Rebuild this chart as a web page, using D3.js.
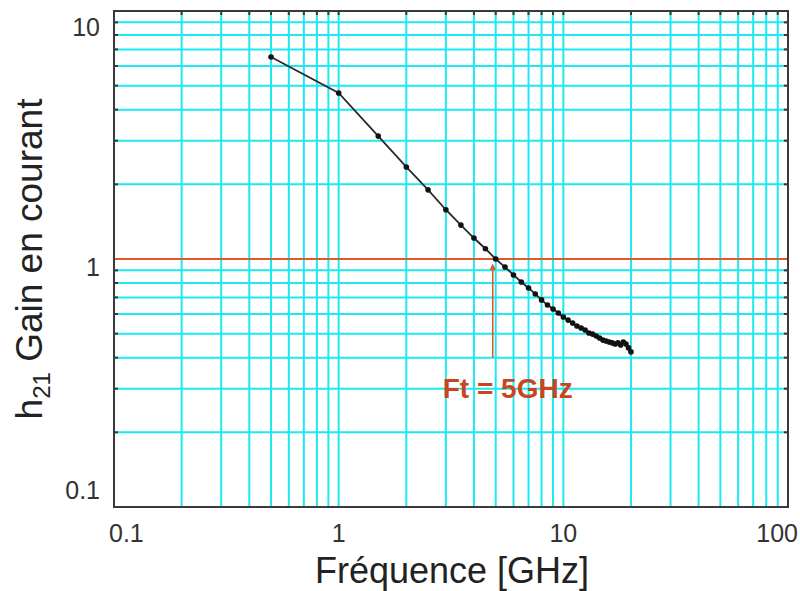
<!DOCTYPE html>
<html>
<head>
<meta charset="utf-8">
<script src="https://cdn.jsdelivr.net/npm/d3@7"></script>
<style>
  body { margin: 0; background: #fff; }
  text { font-family: "Liberation Sans", Arial, sans-serif; }
</style>
</head>
<body>
<script>
// h21 current gain vs frequency, log-log
var WIDTH = 800, HEIGHT = 591;
var MARGIN = {top: 11, right: 12, bottom: 84, left: 114};

var GRID_COLOR = "#1ee8f2";
var FRAME_COLOR = "#3a3a3a";
var RED_COLOR = "#e0582e";
var TEXT_RED = "#c8461e";

// measured points (GHz, h21)
var freq = [0.5, 1, 1.5, 2, 2.5, 3, 3.5, 4, 4.5, 5,
            5.5, 6, 6.5, 7, 7.5, 8, 8.5, 9, 9.5, 10,
            10.5, 11, 11.5, 12, 12.5, 13, 13.5, 14, 14.5, 15,
            15.5, 16, 16.5, 17, 17.5, 18, 18.5, 19, 19.5, 20];
var gain = [6.52, 4.67, 3.13, 2.35, 1.90, 1.58, 1.37, 1.215, 1.10, 1.0,
            0.928, 0.862, 0.808, 0.764, 0.723, 0.684, 0.652, 0.629, 0.606, 0.584,
            0.567, 0.552, 0.537, 0.527, 0.517, 0.503, 0.498, 0.489, 0.480, 0.471,
            0.467, 0.463, 0.459, 0.454, 0.459, 0.450, 0.463, 0.454, 0.438, 0.422];

var xTickValues = [0.1, 1, 10, 100];
var xTickLabels = ["0.1", "1", "10", "100"];
var yTickValues = [10, 1, 0.1];
var yTickLabels = ["10", "1", "0.1"];

var FT = 5;            // transition frequency
var ARROW_FREQ = 4.85; // where the arrow is drawn
var ARROW_FROM = 0.40, ARROW_TO = 0.93;

var innerW = WIDTH - MARGIN.left - MARGIN.right;
var innerH = HEIGHT - MARGIN.top - MARGIN.bottom;

var x = d3.scaleLog().domain([0.1, 100]).range([MARGIN.left, MARGIN.left + innerW]);
var y = d3.scaleLog().domain([0.1, 10]).range([MARGIN.top + innerH, MARGIN.top]);

var svg = d3.select("body").append("svg")
    .attr("width", WIDTH).attr("height", HEIGHT);

svg.append("defs").append("marker")
    .attr("id", "arrowhead")
    .attr("viewBox", "0 0 10 10")
    .attr("refX", 5).attr("refY", 5)
    .attr("markerWidth", 4).attr("markerHeight", 4)
    .attr("orient", "auto")
  .append("path")
    .attr("d", "M0,0 L10,5 L0,10 Z")
    .attr("fill", RED_COLOR);

// grid (every 1..9 of each decade)
var xGrid = x.ticks().filter(function(d) { return d > 0.1 && d < 100; });
var yGrid = y.ticks().filter(function(d) { return d > 0.1 && d <= 10; });

svg.append("g").selectAll("line").data(xGrid).join("line")
    .attr("x1", function(d) { return x(d); }).attr("x2", function(d) { return x(d); })
    .attr("y1", MARGIN.top).attr("y2", MARGIN.top + innerH)
    .attr("stroke", GRID_COLOR).attr("stroke-width", 2);

svg.append("g").selectAll("line").data(yGrid).join("line")
    .attr("y1", function(d) { return y(d); }).attr("y2", function(d) { return y(d); })
    .attr("x1", MARGIN.left).attr("x2", MARGIN.left + innerW)
    .attr("stroke", GRID_COLOR).attr("stroke-width", 2);

// inner tick marks
svg.append("g").selectAll("line").data(yGrid).join("line")
    .attr("x1", MARGIN.left).attr("x2", MARGIN.left + 4)
    .attr("y1", function(d) { return y(d); }).attr("y2", function(d) { return y(d); })
    .attr("stroke", FRAME_COLOR).attr("stroke-width", 2);
svg.append("g").selectAll("line").data(yGrid).join("line")
    .attr("x1", MARGIN.left + innerW - 4).attr("x2", MARGIN.left + innerW)
    .attr("y1", function(d) { return y(d); }).attr("y2", function(d) { return y(d); })
    .attr("stroke", FRAME_COLOR).attr("stroke-width", 2);
svg.append("g").selectAll("line").data(xGrid).join("line")
    .attr("x1", function(d) { return x(d); }).attr("x2", function(d) { return x(d); })
    .attr("y1", MARGIN.top).attr("y2", MARGIN.top + 4)
    .attr("stroke", FRAME_COLOR).attr("stroke-width", 2);

// unity gain line
svg.append("line")
    .attr("x1", MARGIN.left).attr("x2", MARGIN.left + innerW)
    .attr("y1", y(1)).attr("y2", y(1))
    .attr("stroke", RED_COLOR).attr("stroke-width", 2);

// frame
svg.append("rect")
    .attr("x", MARGIN.left).attr("y", MARGIN.top)
    .attr("width", innerW).attr("height", innerH)
    .attr("fill", "none").attr("stroke", FRAME_COLOR).attr("stroke-width", 2);

// curve
var line = d3.line()
    .x(function(d, i) { return x(freq[i]); })
    .y(function(d) { return y(d); });

svg.append("path")
    .datum(gain)
    .attr("d", line)
    .attr("fill", "none").attr("stroke", "#2a2a2a").attr("stroke-width", 1.8);

svg.append("g").selectAll("circle").data(gain).join("circle")
    .attr("cx", function(d, i) { return x(freq[i]); })
    .attr("cy", function(d) { return y(d); })
    .attr("r", 2.8)
    .attr("fill", "#111");

// Ft arrow + label
svg.append("line")
    .attr("x1", x(ARROW_FREQ)).attr("x2", x(ARROW_FREQ))
    .attr("y1", y(ARROW_FROM)).attr("y2", y(ARROW_TO))
    .attr("stroke", RED_COLOR).attr("stroke-width", 1.6)
    .attr("marker-end", "url(#arrowhead)");

svg.append("text")
    .attr("x", x(ARROW_FREQ) + 15).attr("y", y(ARROW_FROM) + 40)
    .attr("text-anchor", "middle")
    .attr("font-size", 28).attr("font-weight", "bold")
    .attr("fill", TEXT_RED)
    .text("Ft = " + FT + "GHz");

// tick labels
var xAnchor = ["start", "middle", "middle", "end"];
svg.append("g").selectAll("text").data(xTickValues).join("text")
    .attr("x", function(d, i) { return x(d) + (i === 0 ? -5 : (i === 3 ? 10 : 0)); })
    .attr("y", MARGIN.top + innerH + 35)
    .attr("text-anchor", function(d, i) { return xAnchor[i]; })
    .attr("font-size", 25).attr("fill", "#333")
    .text(function(d, i) { return xTickLabels[i]; });

var yOffset = [25, 17, -8];
svg.append("g").selectAll("text").data(yTickValues).join("text")
    .attr("x", MARGIN.left - 14)
    .attr("y", function(d, i) { return y(d) + yOffset[i]; })
    .attr("text-anchor", "end")
    .attr("font-size", 25).attr("fill", "#333")
    .text(function(d, i) { return yTickLabels[i]; });

// axis titles
svg.append("text")
    .attr("x", MARGIN.left + innerW / 2 + 1).attr("y", HEIGHT - 8)
    .attr("text-anchor", "middle")
    .attr("font-size", 36).attr("fill", "#222")
    .text("Fréquence [GHz]");

var yTitle = svg.append("text")
    .attr("transform", "translate(42," + (MARGIN.top + innerH / 2) + ") rotate(-90)")
    .attr("text-anchor", "middle")
    .attr("font-size", 37).attr("fill", "#222");
yTitle.append("tspan").text("h");
yTitle.append("tspan").attr("font-size", 24).attr("dy", 8).text("21");
yTitle.append("tspan").attr("dy", -8).text(" Gain en courant");
</script>
</body>
</html>
